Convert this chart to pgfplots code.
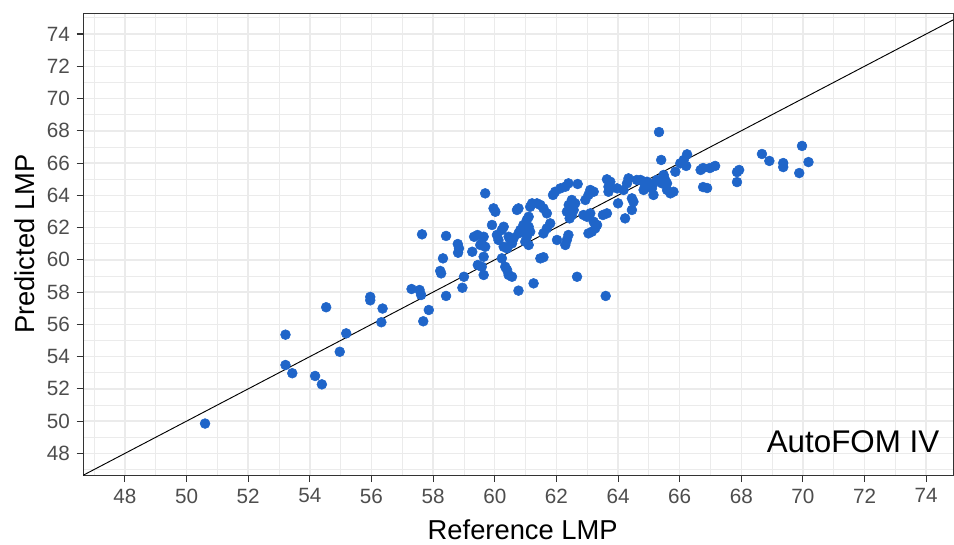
\documentclass[border=0pt]{standalone}
\usepackage{pgfplots}
\pgfplotsset{compat=1.18}
\usepackage{fontspec}
\setmainfont{Liberation Sans}
\definecolor{ptblue}{RGB}{31,101,201}
\definecolor{gridgray}{RGB}{235,235,235}
\definecolor{tickgray}{RGB}{77,77,77}
\definecolor{bordergray}{RGB}{51,51,51}
\begin{document}
\begin{tikzpicture}
\begin{axis}[
  scale only axis,
  width=652.5pt, height=346.5pt,
  at={(0,0)}, anchor=south west,
  xmin=46.65, xmax=74.88, ymin=46.64, ymax=75.28,
  xtick={48,50,...,74}, ytick={48,50,...,74},
  minor xtick={47,49,...,75}, minor ytick={47,49,...,75},
  grid=both,
  major grid style={draw=gridgray, line width=1.1pt},
  minor grid style={draw=gridgray, line width=0.6pt},
  axis line style={draw=bordergray, line width=0.9pt},
  tick align=outside,
  major tick length=5pt, minor tick length=0pt,
  tick style={draw=bordergray, line width=0.8pt},
  xtick pos=bottom, ytick pos=left,
  /pgf/number format/assume math mode=true,
  ticklabel style={font=\fontsize{15.5}{18}\selectfont, text=tickgray},
  yticklabel style={xshift=-1.5pt},
  xticklabel style={yshift=-1.5pt},
  xlabel={Reference LMP}, ylabel={Predicted LMP},
  label style={font=\fontsize{20.5}{24}\selectfont},
  xlabel style={at={(axis description cs:0.505,-0.1183)}, anchor=center},
  ylabel style={at={(axis description cs:-0.0675,0.5)}, anchor=center, rotate=0},
  clip=true,
]
\addplot[black, line width=0.7pt] coordinates {(46.0,46.0) (76.0,76.0)};
\addplot[only marks, mark=*, mark size=3.7pt, color=ptblue, mark options={draw=ptblue, fill=ptblue}] coordinates {
(50.60,49.85) (53.21,55.36) (53.21,53.48) (53.43,52.97) (54.17,52.80)
(54.39,52.28) (54.53,57.06) (54.97,54.30) (55.18,55.44) (55.96,57.70)
(55.96,57.49) (56.36,56.98) (56.32,56.13) (57.30,58.19) (57.56,58.13)
(57.61,57.82) (57.86,56.89) (57.68,56.19) (57.64,61.58) (58.42,61.48)
(58.32,60.09) (58.23,59.31) (58.26,59.16) (58.42,57.76) (58.80,60.98)
(58.84,60.71) (58.81,60.44) (59.00,58.95) (58.95,58.27) (59.27,60.50)
(59.33,61.43) (59.44,61.54) (59.45,59.68) (59.53,60.92)
(59.69,64.12) (59.96,63.19) (60.02,62.98) (59.91,62.16) (60.07,61.54)
(60.12,61.23) (59.64,59.06) (59.58,59.57) (59.64,60.19) (59.69,60.81)
(59.58,61.02) (59.64,61.43) (60.29,62.05) (60.23,61.85) (60.50,61.23)
(60.56,61.02) (60.40,60.71) (60.29,60.81) (60.45,61.43) (60.61,61.33)
(60.56,58.95) (60.45,59.06) (60.34,59.57) (60.23,60.09) (60.40,59.37)
(60.77,63.19) (60.72,63.09) (61.10,62.67) (61.04,62.47) (60.93,62.16)
(60.83,61.85) (60.77,61.64) (60.93,61.74) (61.10,62.05) (61.15,61.74)
(61.04,61.43) (60.99,61.12) (61.10,60.92) (60.77,58.09) (61.26,58.54)
(61.48,60.09) (61.58,60.16) (61.69,62.88) (61.58,63.19) (61.48,63.40)
(61.37,63.50) (61.21,63.50) (61.15,63.29) (61.80,62.26) (61.69,61.95)
(61.58,61.64) (62.02,61.23) (62.39,61.54) (62.34,61.23) (62.29,60.92)
(62.67,58.95) (62.69,64.70) (62.39,64.74) (62.29,64.53) (62.13,64.43)
(61.96,64.22) (61.89,64.02) (62.50,63.71) (62.40,63.40) (62.45,63.19)
(62.56,63.09) (62.50,62.78) (62.43,62.57) (62.61,63.50) (62.34,62.98)
(62.99,62.67) (62.88,62.78) (63.10,62.88) (63.32,62.16) (63.26,61.95)
(63.15,61.74) (63.04,61.64) (63.21,62.36) (63.10,64.33) (63.04,64.02)
(62.94,63.71) (63.21,64.22) (63.60,57.76) (63.64,62.88) (63.51,62.78)
(63.64,64.99) (63.75,64.84) (63.69,64.22) (63.97,64.43) (63.69,64.53)
(64.00,63.50) (64.23,62.57) (64.45,63.81) (64.50,63.60) (64.45,63.09)
(64.34,65.05) (64.29,64.74) (64.18,64.33) (64.61,64.95) (64.94,64.84)
(64.83,64.84) (64.73,64.95) (64.88,64.53) (64.83,64.33) (65.26,64.95)
(65.15,64.74) (65.10,64.43) (65.15,64.02) (65.48,65.26) (65.53,64.95)
(65.43,64.74) (65.59,64.74) (65.70,64.12) (65.59,64.33) (65.80,64.22)
(65.86,65.46) (65.33,67.92) (65.40,66.19) (66.24,66.54) (66.13,66.19)
(66.21,65.82) (66.02,65.98)
(66.68,65.57) (66.76,65.69) (66.98,65.69) (67.15,65.82) (66.76,64.51)
(66.89,64.45) (67.86,65.44) (67.93,65.57) (67.86,64.82) (68.67,66.56)
(68.91,66.13) (69.36,66.00) (69.36,65.75) (69.97,67.06) (70.18,66.06)
(69.88,65.38)
};
\node[anchor=east, inner sep=0pt, font=\fontsize{23.5}{28}\selectfont] at (axis cs:74.43,48.71) {AutoFOM IV};
\end{axis}
\pgfresetboundingbox
\useasboundingbox (-62.5pt,-51.5pt) rectangle (653pt,356.5pt);
\end{tikzpicture}
\end{document}
